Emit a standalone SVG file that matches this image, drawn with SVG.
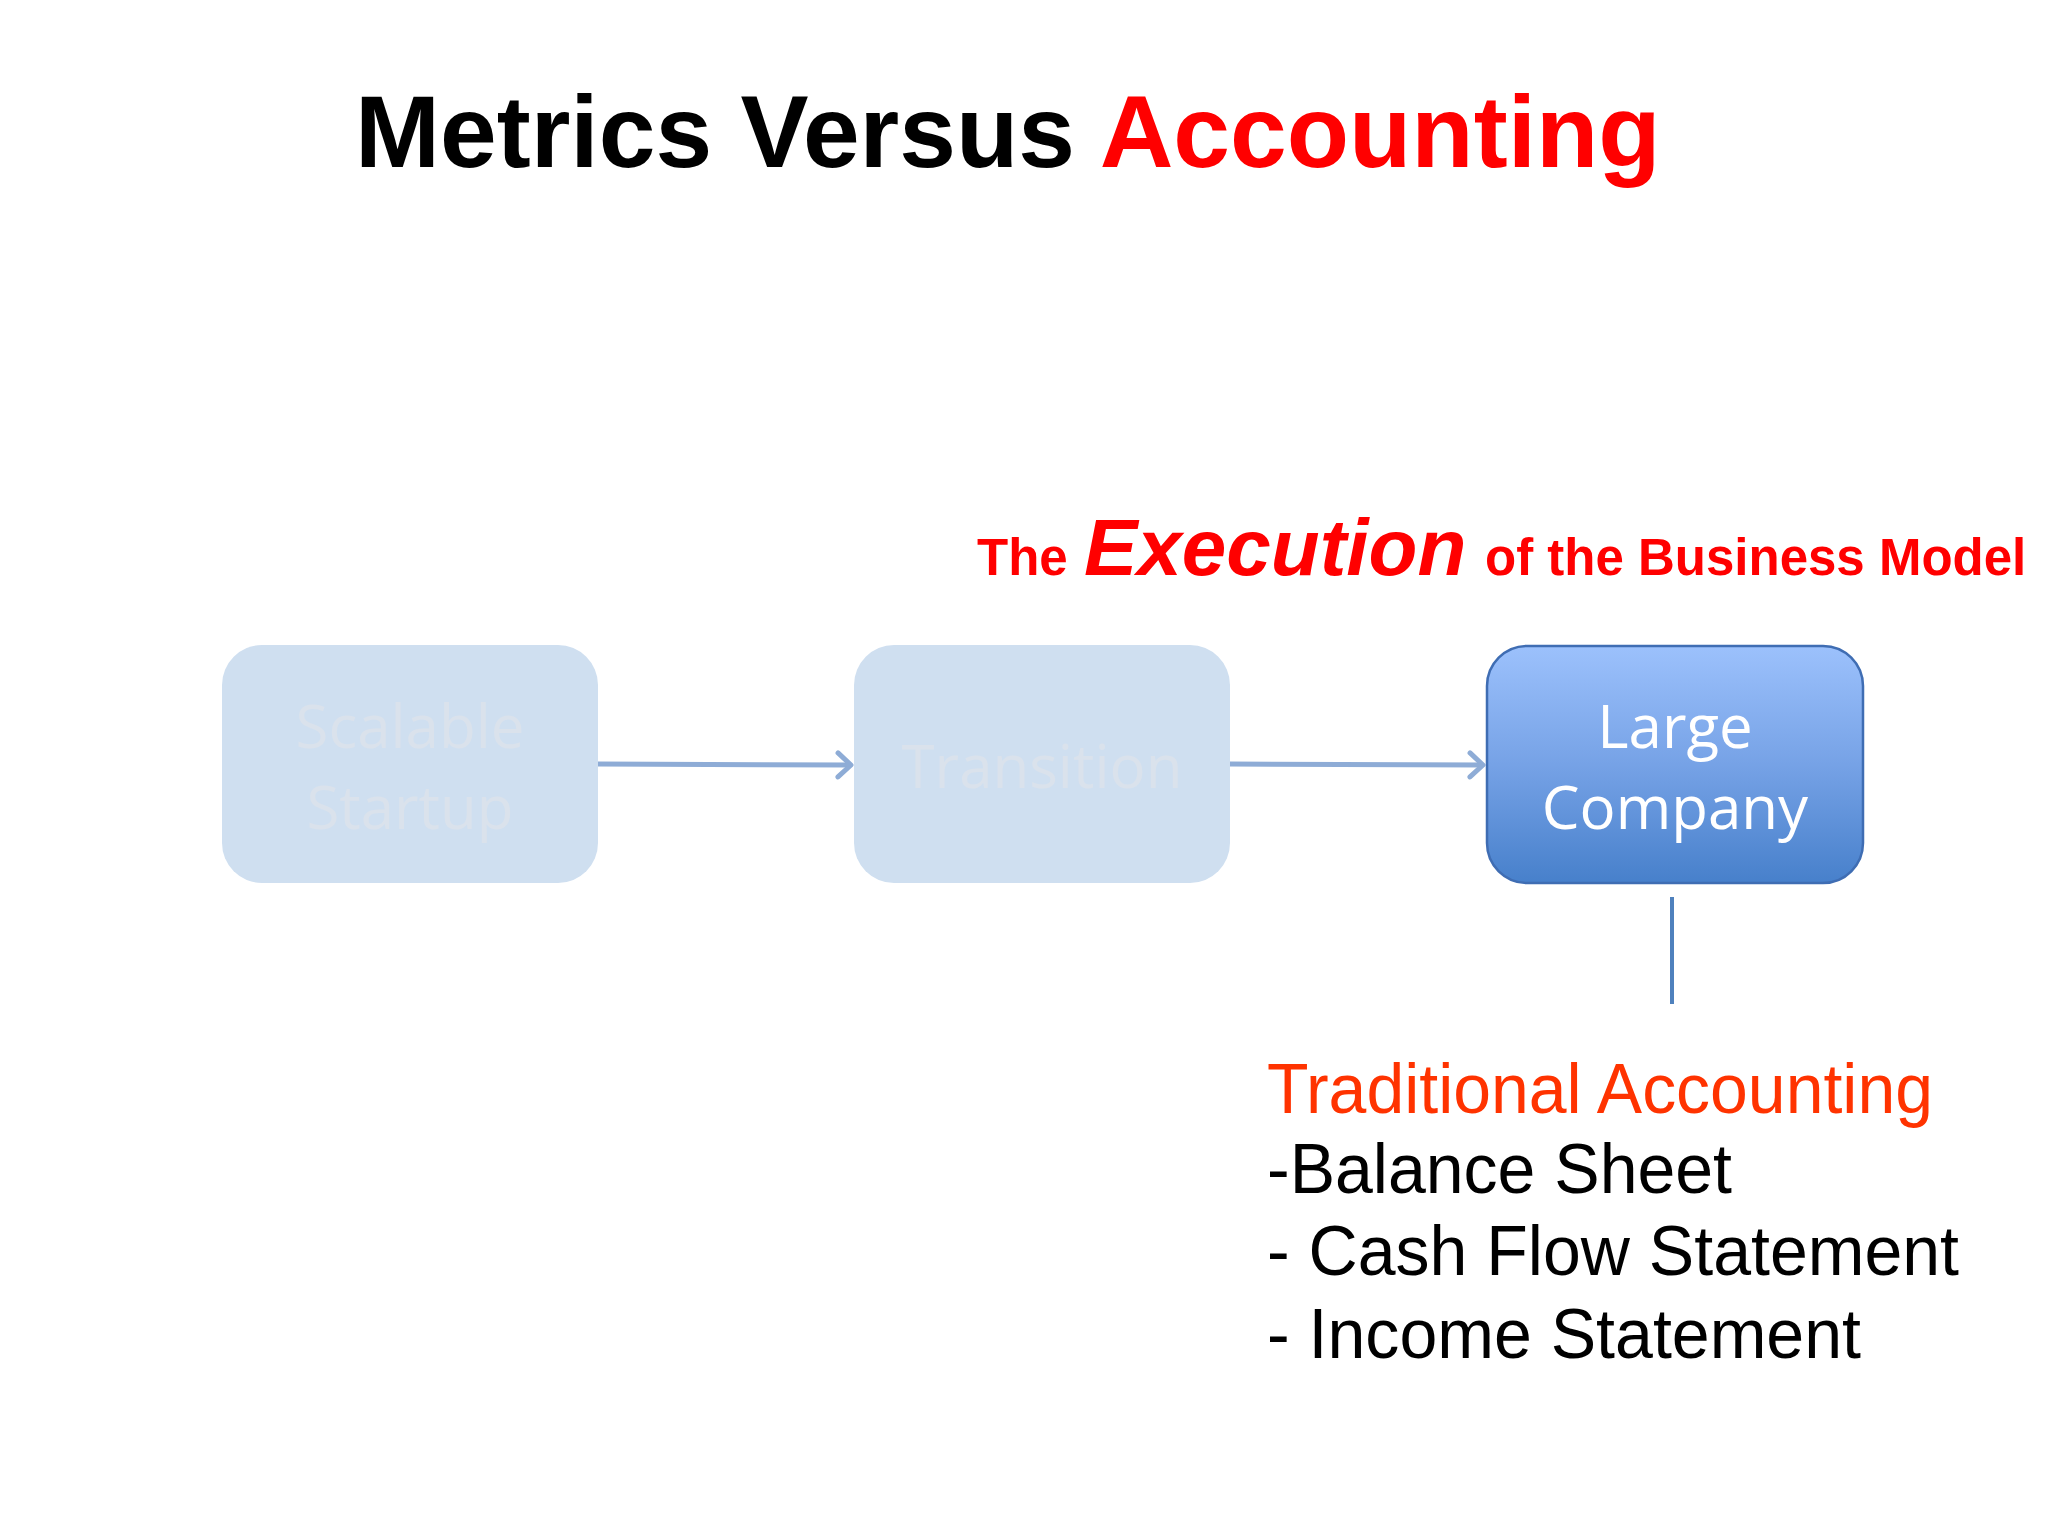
<svg xmlns="http://www.w3.org/2000/svg" width="2048" height="1536" viewBox="0 0 2048 1536">
<style>
.title{font-family:"Liberation Sans",Arial,sans-serif;font-weight:bold;font-size:102px}
.sub{font-family:"Liberation Sans",Arial,sans-serif;font-weight:bold;fill:#FF0000}
.box{font-family:"Open Sans","Noto Sans",sans-serif;font-size:60px;text-anchor:middle}
.faint{fill:#CFDFF0}
.faintText{fill:#DAE2EC}
.list{font-family:"Liberation Sans",Arial,sans-serif;font-size:70px}
.conn{stroke:#8EACD6;stroke-width:5;fill:none}
</style>
<defs>
<linearGradient id="g3" x1="0" y1="0" x2="0" y2="1">
<stop offset="0" stop-color="#9CC1FC"/>
<stop offset="0.5" stop-color="#76A2E6"/>
<stop offset="1" stop-color="#4780CB"/>
</linearGradient>
<marker id="arr" viewBox="0 0 26 30" refX="23" refY="15" markerWidth="26" markerHeight="30" markerUnits="userSpaceOnUse" orient="auto">
<path d="M10,3 L23,15 L10,27" fill="none" stroke="#8EACD6" stroke-width="5" stroke-linecap="round" stroke-linejoin="round"/>
</marker>
</defs>
<rect width="2048" height="1536" fill="#FFFFFF"/>
<text class="title" x="355" y="167"><tspan fill="#000000">Metrics Versus </tspan><tspan fill="#FF0000">Accounting</tspan></text>
<text class="sub" y="575"><tspan x="977" font-size="51">The</tspan><tspan x="1084" font-size="80" font-style="italic">Execution</tspan><tspan x="1485" font-size="51">of the Business Model</tspan></text>
<g id="connectors">
<line class="conn" x1="598" y1="764" x2="851" y2="765" marker-end="url(#arr)"/>
<line class="conn" x1="1230" y1="764" x2="1483" y2="765" marker-end="url(#arr)"/>
<line x1="1672" y1="897" x2="1672" y2="1004" stroke="#4F81BD" stroke-width="4"/>
</g>
<g id="node-startup">
<rect class="faint" x="222" y="645" width="376" height="238" rx="40"/>
<text class="box faintText" x="410" y="748">Scalable</text>
<text class="box faintText" x="410" y="829">Startup</text>
</g>
<g id="node-transition">
<rect class="faint" x="854" y="645" width="376" height="238" rx="40"/>
<text class="box faintText" x="1042" y="788">Transition</text>
</g>
<g id="node-large">
<rect x="1487" y="646" width="376" height="237" rx="40" fill="url(#g3)" stroke="#3F6DB3" stroke-width="2.5"/>
<text class="box" x="1675" y="748" fill="#FFFFFF">Large</text>
<text class="box" x="1675" y="829" fill="#FFFFFF">Company</text>
</g>
<g id="accounting">
<text class="list" x="1267" y="1113" fill="#FF3300" textLength="666" lengthAdjust="spacingAndGlyphs">Traditional Accounting</text>
<text class="list" x="1267" y="1193" fill="#000000" textLength="465" lengthAdjust="spacingAndGlyphs">-Balance Sheet</text>
<text class="list" x="1267" y="1275" fill="#000000" textLength="692" lengthAdjust="spacingAndGlyphs">- Cash Flow Statement</text>
<text class="list" x="1267" y="1358" fill="#000000" textLength="594" lengthAdjust="spacingAndGlyphs">- Income Statement</text>
</g>
</svg>
